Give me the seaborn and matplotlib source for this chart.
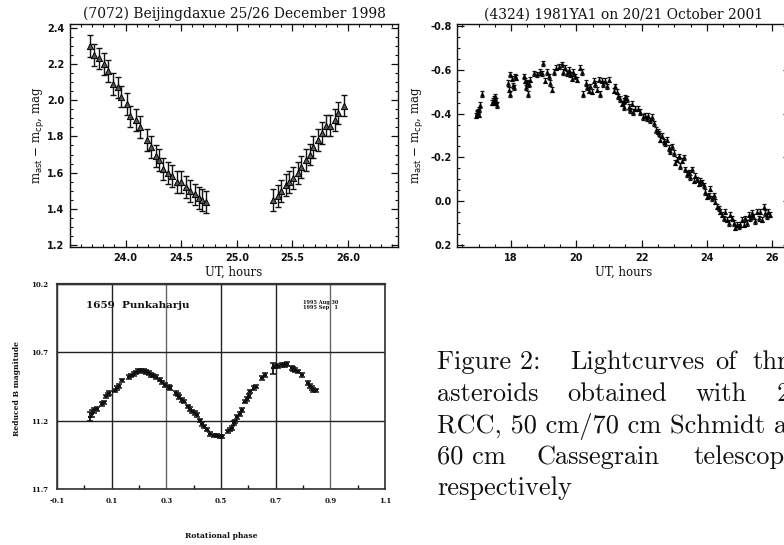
import numpy as np
import pandas as pd
import matplotlib
matplotlib.use("Agg")
import matplotlib.pyplot as plt
import seaborn as sns
from matplotlib.ticker import MultipleLocator, FormatStrFormatter

# ---------------- data ----------------
# (7072) Beijingdaxue, two branches of the lightcurve
p1_ut = [23.68, 23.72, 23.76, 23.81, 23.84, 23.89, 23.93, 23.96, 24.01, 24.04,
         24.09, 24.13, 24.19, 24.23, 24.27, 24.30, 24.34, 24.38, 24.42, 24.46,
         24.50, 24.54, 24.58, 24.62, 24.66, 24.69, 24.72,
         25.33, 25.37, 25.40, 25.44, 25.47, 25.51, 25.55, 25.58, 25.62, 25.66,
         25.69, 25.73, 25.77, 25.80, 25.84, 25.88, 25.91, 25.96]
p1_dmag = [2.30, 2.25, 2.23, 2.20, 2.16, 2.09, 2.07, 2.02, 1.98, 1.91,
           1.89, 1.85, 1.78, 1.74, 1.69, 1.67, 1.62, 1.60, 1.58, 1.55,
           1.55, 1.52, 1.50, 1.48, 1.46, 1.45, 1.44,
           1.45, 1.47, 1.50, 1.53, 1.55, 1.57, 1.60, 1.63, 1.67, 1.70,
           1.74, 1.78, 1.82, 1.86, 1.86, 1.89, 1.93, 1.97]
p1_err = 0.06

# (4324) 1981YA1
p2_ut = [16.93, 16.95, 16.96, 16.99, 17.00, 17.01, 17.03, 17.10,
         17.40, 17.44, 17.47, 17.50, 17.52, 17.55, 17.57,
         17.89, 17.93, 17.97, 17.97, 18.02, 18.05, 18.09, 18.12, 18.15,
         18.38, 18.43, 18.46, 18.50, 18.53, 18.56, 18.58,
         18.71, 18.79, 18.87, 18.94, 18.99, 19.04, 19.09, 19.15, 19.20, 19.25, 19.30, 19.38,
         19.48, 19.55, 19.60, 19.66, 19.71, 19.76, 19.81, 19.86, 19.91, 19.96, 20.02, 20.10, 20.17,
         20.20, 20.30, 20.34, 20.38, 20.42, 20.48, 20.53, 20.58, 20.63, 20.68, 20.73,
         20.78, 20.83, 20.88, 20.94, 20.99, 21.14, 21.19, 21.24,
         21.29, 21.35, 21.40, 21.45, 21.47, 21.50, 21.55, 21.60, 21.65, 21.70,
         21.75, 21.80, 21.88, 21.96, 22.04, 22.11, 22.16, 22.21, 22.27, 22.32,
         22.39, 22.45, 22.49, 22.53, 22.57, 22.62, 22.68, 22.73, 22.78, 22.83,
         22.88, 22.93, 22.98, 23.03, 23.08, 23.14, 23.19, 23.24, 23.29, 23.34,
         23.39, 23.44, 23.49, 23.54, 23.60, 23.65, 23.70, 23.75, 23.80, 23.85,
         23.90, 23.95, 24.00, 24.06, 24.11, 24.16, 24.21, 24.26, 24.31, 24.36,
         24.41, 24.47, 24.52, 24.57, 24.62, 24.67, 24.72, 24.77, 24.82, 24.87,
         24.93, 24.98, 25.03, 25.08, 25.13, 25.18, 25.23, 25.28, 25.33, 25.38,
         25.43, 25.49, 25.54, 25.59, 25.64, 25.69, 25.74, 25.79, 25.84, 25.89, 25.94]
p2_dmag = [-0.39, -0.405, -0.40, -0.41, -0.395, -0.42, -0.44, -0.49,
           -0.45, -0.46, -0.47, -0.45, -0.48, -0.46, -0.44,
           -0.54, -0.51, -0.58, -0.49, -0.56, -0.53, -0.52, -0.57, -0.565,
           -0.57, -0.55, -0.52, -0.54, -0.49, -0.535, -0.555,
           -0.585, -0.58, -0.59, -0.585, -0.63, -0.55, -0.59, -0.57, -0.54, -0.51, -0.59, -0.61,
           -0.615, -0.625, -0.59, -0.61, -0.585, -0.60, -0.58, -0.56, -0.59, -0.57, -0.555, -0.61, -0.59,
           -0.49, -0.54, -0.52, -0.505, -0.525, -0.50, -0.55, -0.535, -0.51, -0.555, -0.49,
           -0.55, -0.535, -0.55, -0.525, -0.555, -0.505, -0.525, -0.50,
           -0.48, -0.467, -0.445, -0.46, -0.43, -0.475, -0.467, -0.43, -0.415, -0.445,
           -0.407, -0.422, -0.422, -0.407, -0.385, -0.39, -0.378, -0.39, -0.37, -0.385,
           -0.355, -0.325, -0.318, -0.31, -0.28, -0.30, -0.273, -0.265, -0.28, -0.243,
           -0.228, -0.25, -0.22, -0.176, -0.19, -0.205, -0.16, -0.184, -0.20, -0.146,
           -0.124, -0.131, -0.109, -0.146, -0.094, -0.116, -0.10, -0.079, -0.094, -0.086,
           -0.072, -0.042, -0.02, -0.027, -0.057, -0.012, -0.027, 0.003, 0.025, 0.033,
           0.048, 0.063, 0.078, 0.048, 0.085, 0.10, 0.063, 0.078, 0.10, 0.122,
           0.108, 0.115, 0.108, 0.085, 0.108, 0.078, 0.10, 0.063, 0.078, 0.055,
           0.07, 0.092, 0.048, 0.078, 0.048, 0.085, 0.025, 0.055, 0.07, 0.048, 0.063]
p2_err = 0.012

# 1659 Punkaharju
p3_phase = [0.019, 0.028, 0.036, 0.046, 0.064, 0.073, 0.080, 0.085, 0.092, 0.113,
            0.119, 0.125, 0.138, 0.162, 0.170, 0.180, 0.190, 0.198, 0.207, 0.217,
            0.227, 0.235, 0.244, 0.253, 0.263, 0.275, 0.285, 0.296, 0.308, 0.314,
            0.336, 0.342, 0.348, 0.357, 0.363, 0.381, 0.387, 0.394, 0.406, 0.412,
            0.424, 0.430, 0.436, 0.448, 0.461, 0.473, 0.485, 0.497, 0.503,
            0.527, 0.534, 0.540, 0.546, 0.552, 0.560, 0.568, 0.576, 0.588, 0.595,
            0.601, 0.607, 0.619, 0.627, 0.649, 0.661, 0.692, 0.698, 0.710, 0.722,
            0.735, 0.743, 0.759, 0.765, 0.771, 0.783, 0.795, 0.820, 0.826, 0.832,
            0.838, 0.848]
p3_bmag = [11.17, 11.15, 11.125, 11.115, 11.077, 11.067, 11.023, 11.01, 10.999, 10.98,
           10.96, 10.945, 10.906, 10.882, 10.87, 10.857, 10.848, 10.838, 10.833, 10.835,
           10.843, 10.853, 10.865, 10.87, 10.882, 10.90, 10.92, 10.938, 10.955, 10.962,
           10.998, 11.01, 11.028, 11.047, 11.06, 11.096, 11.113, 11.132, 11.145, 11.157,
           11.198, 11.223, 11.242, 11.266, 11.296, 11.308, 11.31, 11.315, 11.315,
           11.279, 11.266, 11.254, 11.218, 11.206, 11.174, 11.15, 11.12, 11.06, 11.042,
           11.018, 10.986, 10.962, 10.95, 10.889, 10.865, 10.816, 10.804, 10.80, 10.794,
           10.792, 10.787, 10.816, 10.823, 10.828, 10.84, 10.865, 10.926, 10.945, 10.962,
           10.974, 10.979]
p3_err = [0.03, 0.025, 0.02] + [0.013] * 62 + [0.04] + [0.013] * 15

df1 = pd.DataFrame({"ut": p1_ut, "dmag": p1_dmag})
df2 = pd.DataFrame({"ut": p2_ut, "dmag": p2_dmag})
df3 = pd.DataFrame({"phase": p3_phase, "bmag": p3_bmag, "err": p3_err})

sns.set_theme(style="ticks")
plt.rcParams['font.family'] = ['DejaVu Serif']
plt.rcParams['axes.linewidth'] = 1.0
plt.rcParams['axes.edgecolor'] = '#111111'

W, H = 784, 545
fig = plt.figure(figsize=(W / 100, H / 100), dpi=100)


def box(l, t, r, b):
    return [l / W, 1 - b / H, (r - l) / W, (b - t) / H]


ink = '#111111'
ylab = r'm$_{\rm ast}$ $-$ m$_{\rm cp}$, mag'

# ---- top left ----
ax1 = fig.add_axes(box(70, 24, 398, 247))
ax1.errorbar(df1.ut, df1.dmag, yerr=p1_err, fmt='none', ecolor=ink, elinewidth=1.0, capsize=2.3, capthick=1.0)
sns.scatterplot(data=df1, x="ut", y="dmag", marker='^', s=20, color='#555555',
                edgecolor='#000000', linewidth=0.7, ax=ax1, zorder=3)
ax1.set_xlim(23.5, 26.45)
ax1.set_ylim(1.19, 2.42)
ax1.set_xticks([24.0, 24.5, 25.0, 25.5, 26.0])
ax1.xaxis.set_minor_locator(MultipleLocator(0.1))
ax1.set_yticks([1.2, 1.4, 1.6, 1.8, 2.0, 2.2, 2.4])
ax1.yaxis.set_minor_locator(MultipleLocator(0.05))
ax1.xaxis.set_major_formatter(FormatStrFormatter('%.1f'))
ax1.yaxis.set_major_formatter(FormatStrFormatter('%.1f'))
ax1.set_title("(7072) Beijingdaxue 25/26 December 1998", fontsize=10, pad=4, color=ink)
ax1.set_xlabel("UT, hours", fontsize=8.5, labelpad=2, color=ink)
ax1.set_ylabel(ylab, fontsize=8.5, labelpad=1, color=ink)

# ---- top right ----
ax2 = fig.add_axes(box(457, 24, 790, 247))
ax2.errorbar(df2.ut, df2.dmag, yerr=p2_err, fmt='none', ecolor=ink, elinewidth=0.9, capsize=1.6, capthick=0.9)
sns.scatterplot(data=df2, x="ut", y="dmag", marker='^', s=9, color='#000000',
                edgecolor='#000000', linewidth=0.3, ax=ax2, zorder=3)
ax2.set_xlim(16.34, 26.55)
ax2.set_ylim(0.21, -0.81)
ax2.set_xticks([18, 20, 22, 24, 26])
ax2.xaxis.set_minor_locator(MultipleLocator(0.5))
ax2.set_yticks([-0.8, -0.6, -0.4, -0.2, 0.0, 0.2])
ax2.yaxis.set_minor_locator(MultipleLocator(0.05))
ax2.yaxis.set_major_formatter(FormatStrFormatter('%.1f'))
ax2.set_title("(4324) 1981YA1 on 20/21 October 2001", fontsize=10, pad=4, color=ink)
ax2.set_xlabel("UT, hours", fontsize=8.5, labelpad=2, color=ink)
ax2.set_ylabel(ylab, fontsize=8.5, labelpad=4, color=ink)

for ax in (ax1, ax2):
    ax.tick_params(which='both', direction='in', top=True, right=True, colors=ink)
    ax.tick_params(which='major', length=5, width=0.9, labelsize=7, pad=4)
    ax.tick_params(which='minor', length=2.5, width=0.8)
    for lab in ax.get_xticklabels() + ax.get_yticklabels():
        lab.set_fontfamily('DejaVu Sans')
        lab.set_fontweight('bold')

# ---- bottom left ----
ax3 = fig.add_axes(box(57, 284, 385, 489))
ax3.errorbar(df3.phase, df3.bmag, yerr=df3.err, fmt='none', ecolor=ink, elinewidth=1.3,
             capsize=2.2, capthick=1.1, zorder=3)
sns.scatterplot(data=df3, x="phase", y="bmag", marker='_', s=12, color=ink, linewidth=1.6,
                ax=ax3, zorder=3)
ax3.set_xlim(-0.1, 1.1)
ax3.set_ylim(11.7, 10.2)
p3_xticks = [-0.1, 0.1, 0.3, 0.5, 0.7, 0.9, 1.1]
p3_yticks = [10.2, 10.7, 11.2, 11.7]
ax3.set_xticks(p3_xticks)
ax3.set_xticklabels(['-0.1', '0.1', '0.3', '0.5', '0.7', '0.9', '1.1'])
ax3.set_xticks([0.0, 0.2, 0.4, 0.6, 0.8, 1.0], minor=True)
ax3.set_yticks(p3_yticks)
ax3.set_yticklabels(['10.2', '10.7', '11.2', '11.7'])
ax3.grid(True, which='major', color='#222222', linewidth=1.0)
for g, c in zip(ax3.get_xgridlines(), ['#222', '#222', '#666', '#222', '#222', '#666', '#222']):
    g.set_color(c)
ax3.tick_params(which='major', length=0, labelsize=5, pad=6, colors=ink)
ax3.tick_params(which='minor', direction='in', length=3, width=1.0, top=False, colors=ink)
for lab in ax3.get_xticklabels() + ax3.get_yticklabels():
    lab.set_fontweight('bold')
ax3.set_xlabel("")
ax3.set_ylabel("")
for s in ax3.spines.values():
    s.set_linewidth(1.2)
    s.set_color('#333333')
ax3.spines['top'].set_linewidth(1.6)
ax3.text(0.005, 10.36, "1659  Punkaharju", fontsize=7.5, fontweight='bold', va='center', color=ink)
ax3.text(0.80, 10.355, "1995 Aug 30\n1995 Sep   1", fontsize=3.6, fontweight='bold',
         va='center', linespacing=1.0, color=ink)
fig.text(17 / W, 1 - 388 / H, "Reduced B magnitude", rotation=90, fontsize=5.5, fontweight='bold',
         ha='center', va='center', color=ink)
fig.text(221 / W, 1 - 536 / H, "Rotational phase", fontsize=5.5, fontweight='bold',
         ha='center', va='center', color=ink)

# ---- caption (Computer Modern, cut at the right edge like the page) ----
cap = dict(fontsize=19, family='cmr10', va='baseline', ha='left', color='#111111')
caption_words = [
    (437, 369, "Figure 2:"), (570, 369, "Lightcurves"), (715, 369, "of"), (752, 369, "thr"),
    (437, 401, "asteroids"), (567, 401, "obtained"), (695, 401, "with"), (777, 401, "2"),
    (437, 433, "RCC, 50 cm/70 cm Schmidt a"),
    (437, 464, "60 cm"), (537, 464, "Cassegrain"), (693, 464, "telescop"),
    (437, 495, "respectively"),
]
for x, y, w in caption_words:
    fig.text(x / W, 1 - y / H, w, **cap)

fig.savefig("out.png", dpi=100)
